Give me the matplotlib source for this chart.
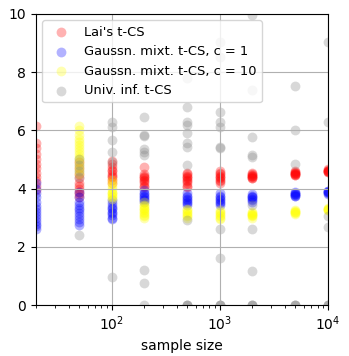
import numpy as np
import matplotlib
matplotlib.use("Agg")
import matplotlib.pyplot as plt

sample_sizes = [20, 50, 100, 200, 500, 1000, 2000, 5000, 10000]

## values, one list per sample size
lai_vals = [
    [6.15, 5.55, 5.4, 5.2, 5.0, 4.85, 4.7, 4.55, 4.4, 4.25, 4.1, 3.95],
    [4.9, 4.7, 4.5, 4.35, 4.2, 4.1, 4.0, 3.9, 3.8, 3.7],
    [4.95, 4.85, 4.75, 4.65, 4.6, 4.5, 4.45, 4.4, 4.3, 4.2],
    [4.75, 4.5, 4.45, 4.4, 4.35, 4.3, 4.25, 4.2, 4.1, 4.05],
    [4.55, 4.5, 4.45, 4.4, 4.35, 4.3, 4.25, 4.2, 4.1, 4.05],
    [4.6, 4.55, 4.5, 4.45, 4.4, 4.35, 4.3, 4.25, 4.2],
    [4.55, 4.5, 4.48, 4.45, 4.42, 4.4, 4.38, 4.35],
    [4.6, 4.57, 4.55, 4.53, 4.5, 4.5, 4.48, 4.46],
    [4.66, 4.64, 4.62, 4.6, 4.6, 4.58, 4.56],
]
mix1_vals = [
    [4.2, 4.0, 3.85, 3.7, 3.55, 3.4, 3.3, 3.2, 3.1, 3.0, 2.9, 2.8, 2.7, 2.6],
    [3.9, 3.7, 3.55, 3.45, 3.35, 3.25, 3.15, 3.05, 2.95, 2.85, 2.75],
    [3.6, 3.5, 3.4, 3.35, 3.3, 3.2, 3.15, 3.1, 3.0, 2.95],
    [3.95, 3.85, 3.8, 3.75, 3.7, 3.65, 3.6, 3.55],
    [3.85, 3.75, 3.7, 3.65, 3.6, 3.55, 3.5, 3.45],
    [3.85, 3.75, 3.7, 3.65, 3.6, 3.55, 3.5, 3.45],
    [3.8, 3.75, 3.72, 3.7, 3.65, 3.6, 3.55],
    [3.88, 3.85, 3.82, 3.8, 3.78, 3.76, 3.74],
    [3.93, 3.91, 3.89, 3.87, 3.85, 3.83],
]
mix10_vals = [
    [],
    [6.15, 6.0, 5.85, 5.7, 5.6, 5.5, 5.4, 5.3, 5.2, 5.1, 5.0, 4.9, 4.8, 4.7, 4.6, 4.5],
    [4.3, 4.2, 4.1, 4.0, 3.9, 3.85, 3.8, 3.75, 3.7, 3.65],
    [3.55, 3.45, 3.4, 3.35, 3.3, 3.25, 3.2, 3.15, 3.1, 3.05, 3.0],
    [3.3, 3.25, 3.2, 3.15, 3.1, 3.05, 3.0],
    [3.25, 3.2, 3.15, 3.1, 3.05, 3.0, 2.95],
    [3.2, 3.15, 3.12, 3.1, 3.08, 3.05, 3.0],
    [3.25, 3.22, 3.2, 3.18, 3.16, 3.14],
    [3.33, 3.31, 3.29, 3.27, 3.25],
]
univ_vals = [
    [],
    [5.0, 4.8, 4.6, 4.4, 2.4],
    [6.3, 6.1, 5.67, 5.27, 4.9, 0.97],
    [6.47, 5.84, 5.8, 5.36, 5.27, 5.15, 1.2, 0.77, 0.0],
    [7.8, 6.8, 6.3, 6.19, 5.9, 5.57, 5.44, 4.81, 2.92, 0.0, 0.0, 0.0],
    [9.05, 8.53, 6.64, 6.3, 6.13, 5.44, 5.4, 2.63, 1.6, 0.0, 0.0, 0.0],
    [9.97, 7.39, 5.78, 5.15, 5.1, 3.44, 2.6, 1.18, 0.0, 0.0, 0.0],
    [7.54, 6.01, 4.85, 0.0, 0.0, 0.0],
    [9.02, 6.3, 3.06, 2.67, 0.0, 0.0, 0.0],
]

series = [
    (lai_vals, "red", "Lai's t-CS"),
    (mix1_vals, "blue", "Gaussn. mixt. t-CS, c = 1"),
    (mix10_vals, "yellow", "Gaussn. mixt. t-CS, c = 10"),
    (univ_vals, "gray", "Univ. inf. t-CS"),
]

f = plt.figure(figsize=(3.49, 3.56), dpi=100)
ax = f.add_axes([0.103, 0.143, 0.837, 0.818])
for vals, color, label in series:
    xs = np.concatenate([[n] * len(v) for n, v in zip(sample_sizes, vals)])
    ys = np.concatenate([v for v in vals])
    ax.scatter(xs, ys, s=50, color=color, alpha=0.3, linewidths=0, label=label)

ax.set_xscale("log")
ax.set_xlim(20, 1e4)
ax.set_ylim(0, 10)
ax.grid(True, which="major")
ax.set_xlabel("sample size")
ax.legend(loc="upper left", fontsize=9.4)
f.savefig("out.png", dpi=100)
